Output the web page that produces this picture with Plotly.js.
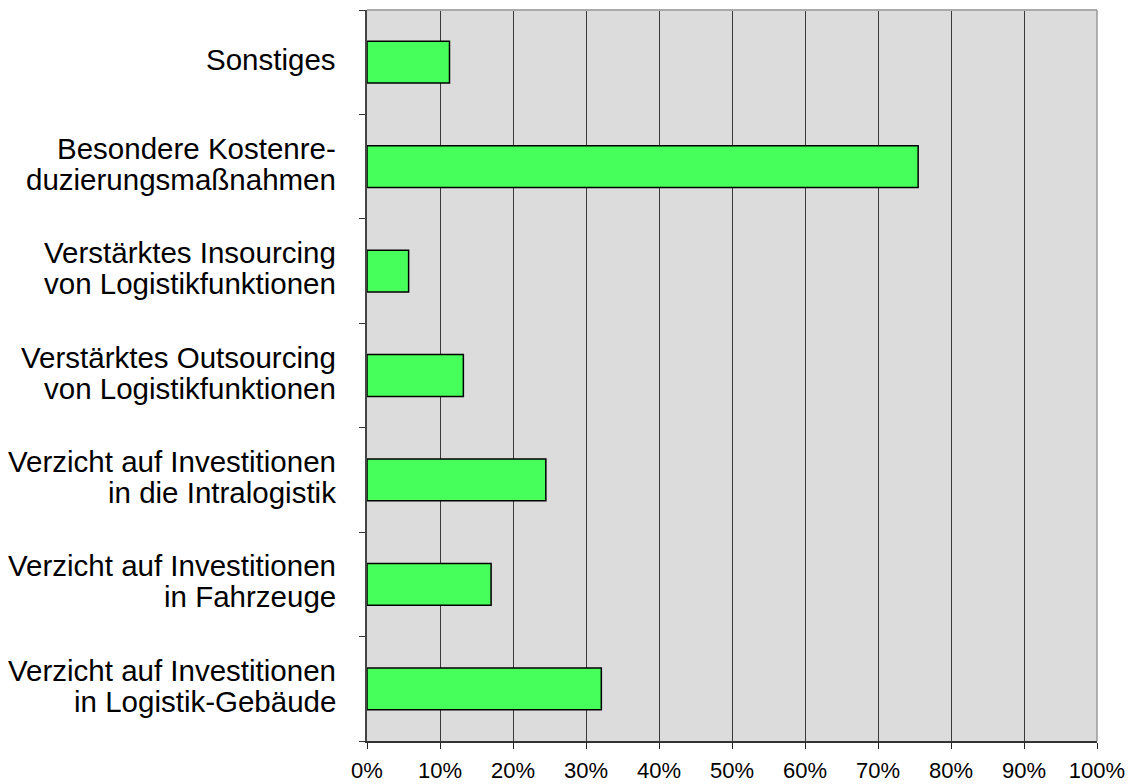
<!DOCTYPE html>
<html>
<head>
<meta charset="utf-8">
<script src="https://cdn.plot.ly/plotly-3.0.1.min.js"></script>
<style>html,body{margin:0;padding:0;background:#fff;}#chart{width:1129px;height:784px;}</style>
</head>
<body>
<div id="chart"></div>
<script>
// Categories from bottom to top (Plotly draws the first category at the bottom)
var categories = [
  "Verzicht auf Investitionen\nin Logistik-Gebäude",
  "Verzicht auf Investitionen\nin Fahrzeuge",
  "Verzicht auf Investitionen\nin die Intralogistik",
  "Verstärktes Outsourcing\nvon Logistikfunktionen",
  "Verstärktes Insourcing\nvon Logistikfunktionen",
  "Besondere Kostenre-\nduzierungsmaßnahmen",
  "Sonstiges"
];
var values = [0.321, 0.170, 0.245, 0.132, 0.057, 0.755, 0.113];
var xTickVals = [0, 0.1, 0.2, 0.3, 0.4, 0.5, 0.6, 0.7, 0.8, 0.9, 1.0];
var xTickText = ["0%", "10%", "20%", "30%", "40%", "50%", "60%", "70%", "80%", "90%", "100%"];

var FONT = "'Liberation Sans', Arial, sans-serif";
var LABEL_SIZE = 29.5;
var LINE_GAP = 31;

var annotations = [];
categories.forEach(function (cat) {
  var lines = cat.split("\n");
  var n = lines.length;
  lines.forEach(function (line, i) {
    annotations.push({
      xref: "paper", yref: "y", x: 0, y: cat,
      xanchor: "right", yanchor: "middle",
      xshift: -29,
      yshift: ((n - 1) / 2 - i) * LINE_GAP + 3,
      text: line, showarrow: false,
      font: {family: FONT, size: LABEL_SIZE, color: "#000"}
    });
  });
});

var trace = {
  type: "bar",
  orientation: "h",
  y: categories,
  x: values,
  marker: {color: "#47FF5A", line: {color: "#000", width: 1.5}},
  hoverinfo: "none"
};

var layout = {
  width: 1129, height: 784,
  margin: {l: 367, r: 32, t: 10, b: 43, pad: 0},
  paper_bgcolor: "#fff",
  plot_bgcolor: "#DCDCDC",
  bargap: 0.6,
  showlegend: false,
  font: {family: FONT, color: "#000"},
  xaxis: {
    range: [0, 1],
    tickvals: xTickVals, ticktext: xTickText,
    ticks: "outside", ticklen: 6, tickwidth: 1, tickcolor: "#222",
    showgrid: true, gridcolor: "#3a3a3a", gridwidth: 1,
    showline: true, linecolor: "#333", linewidth: 2,
    zeroline: false,
    tickfont: {family: FONT, size: 22, color: "#000"},
    ticklabelstandoff: 3,
    automargin: false, fixedrange: true
  },
  yaxis: {
    type: "category",
    categoryorder: "array", categoryarray: categories,
    range: [-0.5, categories.length - 0.5],
    tickson: "boundaries",
    ticks: "outside", ticklen: 6, tickwidth: 1, tickcolor: "#333",
    showticklabels: false,
    showgrid: false,
    showline: true, linecolor: "#444", linewidth: 2,
    zeroline: false,
    automargin: false, fixedrange: true
  },
  shapes: [
    {type: "line", xref: "paper", yref: "paper", x0: 0, x1: 1, y0: 1, y1: 1,
     line: {color: "#aaaaaa", width: 2}, layer: "above"},
    {type: "line", xref: "paper", yref: "paper", x0: 1, x1: 1, y0: 0, y1: 1,
     line: {color: "#999999", width: 1.5}, layer: "above"}
  ],
  annotations: annotations
};

Plotly.newPlot("chart", [trace], layout, {displayModeBar: false, staticPlot: true});
</script>
</body>
</html>
